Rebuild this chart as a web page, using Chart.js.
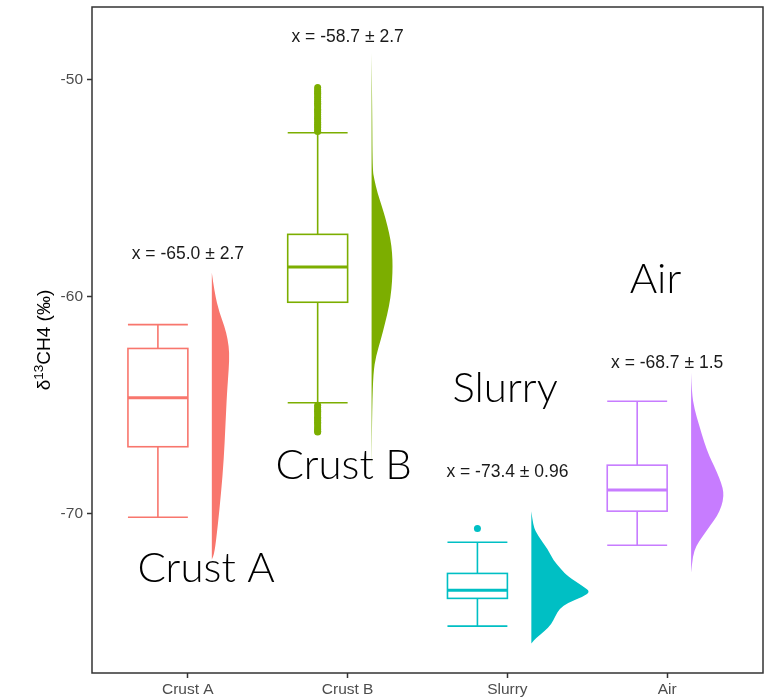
<!DOCTYPE html>
<html>
<head>
<meta charset="utf-8">
<script src="https://cdn.jsdelivr.net/npm/chart.js@4.4.1/dist/chart.umd.min.js"></script>
<style>
  html, body { margin: 0; padding: 0; background: #ffffff; }
  canvas { display: block; }
</style>
</head>
<body>
<canvas id="c" width="767" height="699"></canvas>
<script>
// Groups and their colours
const categories = ['Crust A', 'Crust B', 'Slurry', 'Air'];
const colors = ['#F8766D', '#7CAE00', '#00BFC4', '#C77CFF'];

// Box plot statistics (δ13CH4, ‰)
const whiskerLow  = [-70.16, -64.88, -75.18, -71.45];
const q1          = [-66.91, -60.25, -73.90, -69.88];
const median      = [-64.65, -58.62, -73.52, -68.91];
const q3          = [-62.38, -57.12, -72.75, -67.76];
const whiskerHigh = [-61.28, -52.44, -71.31, -64.81];

// Outlying observations
const outliersCrustB = [
  -50.35, -50.45, -50.55, -50.62, -50.70, -50.80, -50.90, -51.00, -51.08, -51.15,
  -51.25, -51.35, -51.42, -51.50, -51.60, -51.70, -51.78, -51.85, -51.95, -52.05,
  -52.12, -52.20, -52.30, -52.38,
  -65.00, -65.10, -65.20, -65.28, -65.35, -65.45, -65.55, -65.62, -65.70, -65.78,
  -65.85, -65.95, -66.05, -66.12, -66.20, -66.23
];
const outliersSlurry = [-70.68];

// Mean and standard deviation per group
const means = [-65.0, -58.7, -73.4, -68.7];
const sds = ['2.7', '2.7', '0.96', '1.5'];

// Half-violin density profiles: value levels and half-widths (x-axis units)
const densityYCrustA = [-58.89, -59.82, -60.74, -61.35, -61.97, -62.58, -63.35, -64.42, -65.96, -67.50, -69.03, -70.57, -71.80, -72.11];
const densityWCrustA = [0, 0.017, 0.048, 0.079, 0.100, 0.110, 0.106, 0.095, 0.085, 0.075, 0.058, 0.037, 0.017, 0];

const densityYCrustB = [-48.76, -51.22, -54.13, -54.59, -55.21, -55.82, -56.44, -57.05, -57.67, -58.28, -58.89, -59.66, -60.43, -61.20, -61.97, -62.74, -63.50, -65.04, -67.87];
const densityWCrustB = [0, 0.004, 0.006, 0.017, 0.037, 0.064, 0.089, 0.110, 0.125, 0.131, 0.131, 0.125, 0.110, 0.085, 0.058, 0.027, 0.011, 0.004, 0];

const densityYSlurry = [-69.88, -70.57, -71.03, -71.64, -72.11, -72.57, -72.88, -73.34, -73.59, -73.82, -74.10, -74.38, -74.72, -75.10, -75.41, -75.71, -75.98];
const densityWSlurry = [0, 0.011, 0.042, 0.104, 0.135, 0.187, 0.229, 0.322, 0.370, 0.322, 0.229, 0.176, 0.150, 0.125, 0.083, 0.031, 0];

const densityYAir = [-63.50, -64.42, -65.19, -65.96, -66.73, -67.35, -67.81, -68.34, -68.80, -69.19, -69.65, -70.11, -70.49, -71.03, -71.49, -71.95, -72.72];
const densityWAir = [0, 0.004, 0.021, 0.052, 0.083, 0.114, 0.145, 0.176, 0.198, 0.204, 0.191, 0.162, 0.125, 0.073, 0.031, 0.011, 0];

// Axis ticks
const yTicks = [-70, -60, -50];
const xTicks = [1, 2, 3, 4];

const densityY = [densityYCrustA, densityYCrustB, densityYSlurry, densityYAir];
const densityW = [densityWCrustA, densityWCrustB, densityWSlurry, densityWAir];

const BOX_OFFSET = -0.1875;   // box centre relative to category
const BOX_HALF = 0.1875;
const VIOLIN_OFFSET = 0.15;   // flat side of the half violin

const SANS = "'Liberation Sans', Arial, Helvetica, sans-serif";

// Placement of the "x = mean ± sd" labels and the large group names
const statLabelPos = [[1, -58.05], [2, -48.05], [3, -68.06], [4, -63.04]];
const nameLabelPos = [[1.114, -73.13], [1.975, -68.42], [2.986, -64.86], [3.927, -59.82]];

function smoothPath(ctx, pts) {
  ctx.lineTo(pts[0][0], pts[0][1]);
  for (let k = 1; k < pts.length - 1; k++) {
    const mx = (pts[k][0] + pts[k + 1][0]) / 2;
    const my = (pts[k][1] + pts[k + 1][1]) / 2;
    ctx.quadraticCurveTo(pts[k][0], pts[k][1], mx, my);
  }
  const last = pts[pts.length - 1];
  ctx.lineTo(last[0], last[1]);
}

const raincloud = {
  id: 'raincloud',
  beforeDatasetsDraw(chart) {
    const { ctx, chartArea, scales: { x, y } } = chart;
    ctx.save();
    ctx.beginPath();
    ctx.rect(chartArea.left, chartArea.top, chartArea.right - chartArea.left, chartArea.bottom - chartArea.top);
    ctx.clip();

    categories.forEach((cat, i) => {
      const c = i + 1;
      // half violin
      const base = x.getPixelForValue(c + VIOLIN_OFFSET);
      const pts = densityY[i].map((v, k) => [x.getPixelForValue(c + VIOLIN_OFFSET + densityW[i][k]), y.getPixelForValue(v)]);
      ctx.beginPath();
      ctx.moveTo(base, pts[0][1]);
      smoothPath(ctx, pts);
      ctx.lineTo(base, pts[pts.length - 1][1]);
      ctx.closePath();
      ctx.fillStyle = colors[i];
      ctx.fill();

      // box and whiskers
      const xl = x.getPixelForValue(c + BOX_OFFSET - BOX_HALF);
      const xr = x.getPixelForValue(c + BOX_OFFSET + BOX_HALF);
      const xm = x.getPixelForValue(c + BOX_OFFSET);
      const yLo = y.getPixelForValue(whiskerLow[i]);
      const yQ1 = y.getPixelForValue(q1[i]);
      const yMed = y.getPixelForValue(median[i]);
      const yQ3 = y.getPixelForValue(q3[i]);
      const yHi = y.getPixelForValue(whiskerHigh[i]);

      ctx.strokeStyle = colors[i];
      ctx.lineWidth = 1.6;
      ctx.beginPath();
      ctx.moveTo(xm, yHi); ctx.lineTo(xm, yQ3);
      ctx.moveTo(xm, yQ1); ctx.lineTo(xm, yLo);
      ctx.moveTo(xl, yHi); ctx.lineTo(xr, yHi);
      ctx.moveTo(xl, yLo); ctx.lineTo(xr, yLo);
      ctx.stroke();

      ctx.fillStyle = '#ffffff';
      ctx.fillRect(xl, yQ3, xr - xl, yQ1 - yQ3);
      ctx.strokeRect(xl, yQ3, xr - xl, yQ1 - yQ3);

      ctx.lineWidth = 3;
      ctx.beginPath();
      ctx.moveTo(xl, yMed); ctx.lineTo(xr, yMed);
      ctx.stroke();
    });
    ctx.restore();
  },
  afterDatasetsDraw(chart) {
    const { ctx, scales: { x, y } } = chart;
    ctx.save();
    // mean ± sd labels
    ctx.font = `17.5px ${SANS}`;
    ctx.fillStyle = '#1a1a1a';
    ctx.textAlign = 'center';
    ctx.textBaseline = 'middle';
    categories.forEach((cat, i) => {
      const txt = `x = ${means[i].toFixed(1)} ± ${sds[i]}`;
      ctx.fillText(txt, x.getPixelForValue(statLabelPos[i][0]), y.getPixelForValue(statLabelPos[i][1]));
    });
    // large group names
    ctx.font = `300 42px Lato, 'Open Sans', sans-serif`;
    ctx.fillStyle = '#000000';
    ctx.textBaseline = 'alphabetic';
    categories.forEach((cat, i) => {
      ctx.fillText(cat, x.getPixelForValue(nameLabelPos[i][0]), y.getPixelForValue(nameLabelPos[i][1]));
    });
    ctx.restore();
  },
  afterDraw(chart) {
    const { ctx, chartArea } = chart;
    ctx.save();
    // panel border
    ctx.strokeStyle = '#333333';
    ctx.lineWidth = 1.5;
    ctx.strokeRect(chartArea.left, chartArea.top, chartArea.right - chartArea.left, chartArea.bottom - chartArea.top);

    // y-axis title with superscript
    const cy = (chartArea.top + chartArea.bottom) / 2;
    ctx.translate(50, cy);
    ctx.rotate(-Math.PI / 2);
    ctx.fillStyle = '#000000';
    ctx.textBaseline = 'alphabetic';
    const mainFont = `19px ${SANS}`;
    const supFont = `13.5px ${SANS}`;
    const parts = [['δ', mainFont, 0], ['13', supFont, -7.5], ['CH4 (‰)', mainFont, 0]];
    let total = 0;
    parts.forEach(p => { ctx.font = p[1]; total += ctx.measureText(p[0]).width; });
    let px = -total / 2;
    ctx.textAlign = 'left';
    parts.forEach(p => {
      ctx.font = p[1];
      ctx.fillText(p[0], px, p[2]);
      px += ctx.measureText(p[0]).width;
    });
    ctx.restore();
  }
};

const tickGrid = {
  display: true,
  drawOnChartArea: false,
  drawTicks: true,
  tickLength: 5,
  tickWidth: 1.5,
  tickColor: '#333333'
};

new Chart(document.getElementById('c'), {
  type: 'scatter',
  data: {
    datasets: [
      {
        label: 'Crust B outliers',
        data: outliersCrustB.map(v => ({ x: 2 + BOX_OFFSET, y: v })),
        backgroundColor: colors[1],
        borderWidth: 0,
        pointRadius: 3.5
      },
      {
        label: 'Slurry outliers',
        data: outliersSlurry.map(v => ({ x: 3 + BOX_OFFSET, y: v })),
        backgroundColor: colors[2],
        borderWidth: 0,
        pointRadius: 3.5
      }
    ]
  },
  options: {
    responsive: false,
    animation: false,
    devicePixelRatio: 1,
    layout: { padding: { top: 7, right: 4, left: 0, bottom: 0 } },
    plugins: { legend: { display: false }, tooltip: { enabled: false } },
    scales: {
      x: {
        type: 'linear',
        min: 0.4,
        max: 4.6,
        afterBuildTicks: s => { s.ticks = xTicks.map(v => ({ value: v })); },
        afterFit: s => { s.height = 26; s.paddingLeft = 0; s.paddingRight = 0; },
        ticks: {
          callback: v => categories[v - 1],
          font: { family: SANS, size: 15.5 },
          color: '#4d4d4d',
          padding: 2,
          maxRotation: 0,
          autoSkip: false
        },
        grid: tickGrid,
        border: { display: false }
      },
      y: {
        type: 'linear',
        min: -77.34,
        max: -46.64,
        afterBuildTicks: s => { s.ticks = yTicks.map(v => ({ value: v })); },
        afterFit: s => { s.width = 92; s.paddingTop = 0; s.paddingBottom = 0; },
        ticks: {
          callback: v => String(v),
          font: { family: SANS, size: 15.5 },
          color: '#4d4d4d',
          padding: 4
        },
        grid: tickGrid,
        border: { display: false }
      }
    }
  },
  plugins: [raincloud]
});
</script>
</body>
</html>
